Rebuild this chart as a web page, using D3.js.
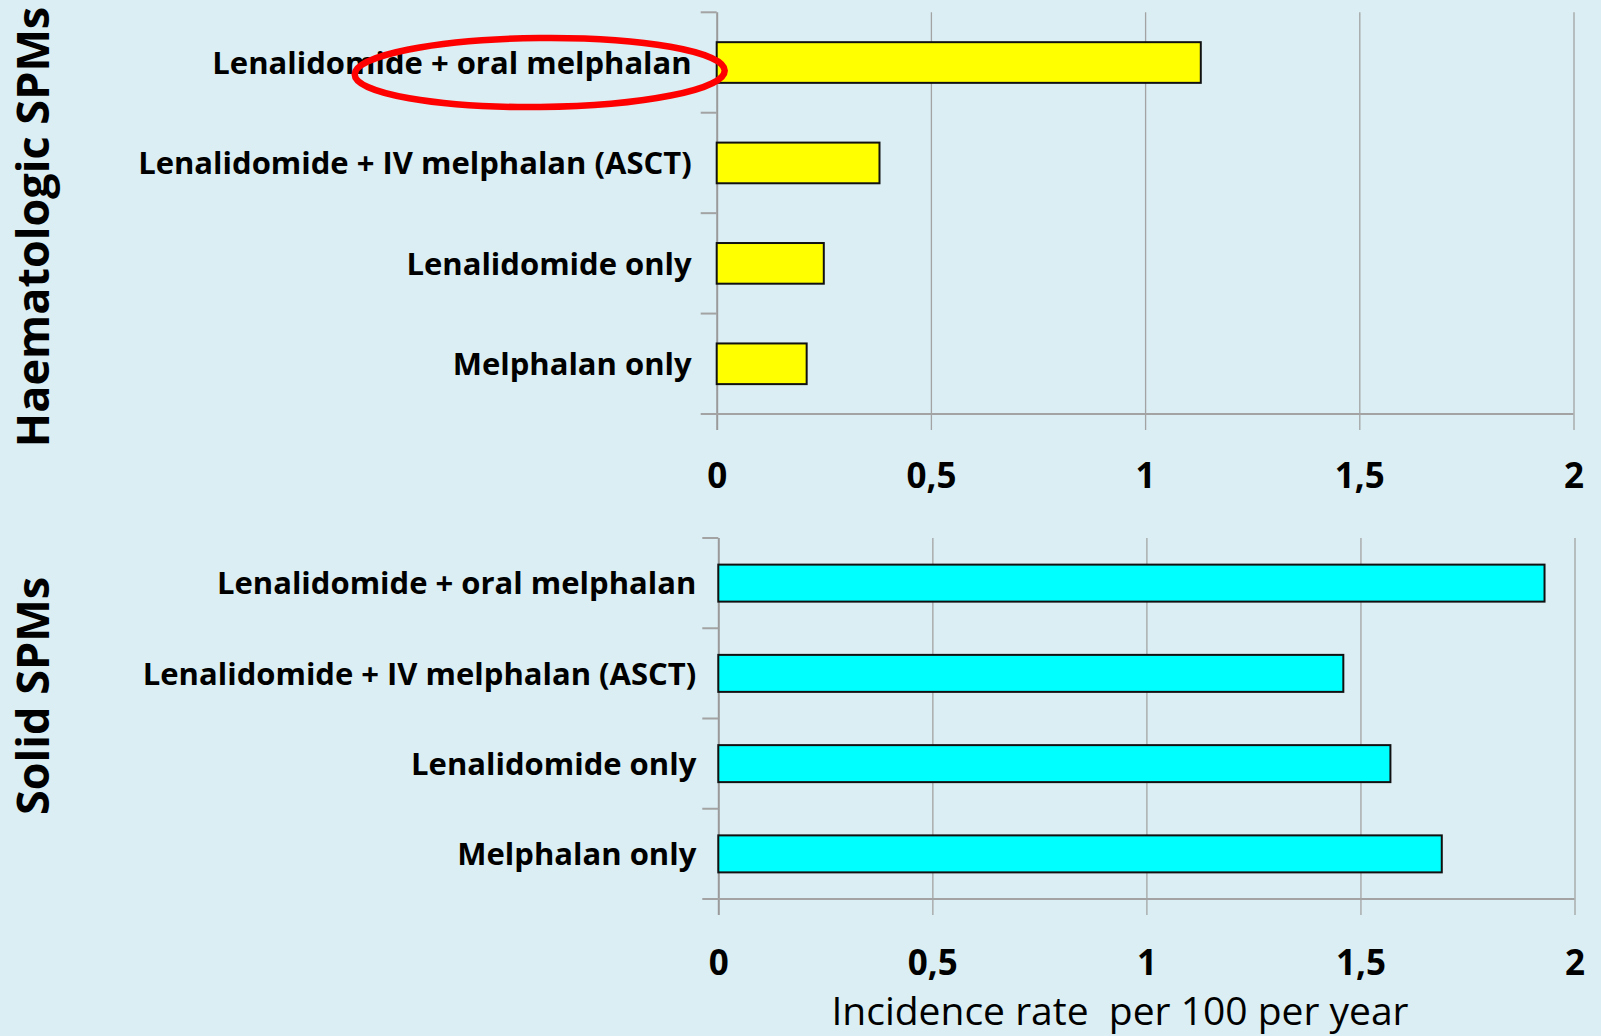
<!DOCTYPE html>
<html>
<head>
<meta charset="utf-8">
<script src="https://cdn.jsdelivr.net/npm/d3@7"></script>
<style>
  html, body { margin: 0; padding: 0; background: #DAEEF3; }
  svg { display: block; }
  text { font-family: "Open Sans", "DejaVu Sans", sans-serif; fill: #000; }
</style>
</head>
<body>
<svg id="chart" width="1601" height="1036"></svg>
<script>
// Treatment groups, listed top to bottom in each panel
const categories = [
  "Lenalidomide + oral melphalan",
  "Lenalidomide + IV melphalan (ASCT)",
  "Lenalidomide only",
  "Melphalan only"
];

// Incidence rate per 100 patient-years
const haematologicValues = [1.13, 0.38, 0.25, 0.21];
const solidValues = [1.93, 1.46, 1.57, 1.69];

// Shared x axis
const xTicks = [0, 0.5, 1, 1.5, 2];
const xTickLabels = ["0", "0,5", "1", "1,5", "2"];

const panelTitles = ["Haematologic SPMs", "Solid SPMs"];
const xAxisTitle = "Incidence rate  per 100 per year";

const svg = d3.select("#chart");
svg.append("rect").attr("width", 1601).attr("height", 1036).attr("fill", "#DAEEF3");

const panels = [
  { title: panelTitles[0], values: haematologicValues, fill: "#FFFF00",
    x0: 716.7, x1: 1573.5, top: 12.3, bottom: 414, pad: 0.595,
    labelGap: 25, tickLabelOffset: 61, titleY: 227 },
  { title: panelTitles[1], values: solidValues, fill: "#00FFFF",
    x0: 718.3, x1: 1574.5, top: 538, bottom: 899, pad: 0.59,
    labelGap: 22, tickLabelOffset: 63, titleY: 696 }
];

panels.forEach((p, pi) => {
  const g = svg.append("g");
  const x = d3.scaleLinear().domain([0, 2]).range([p.x0, p.x1]);
  const y = d3.scaleBand().domain(categories).range([p.top, p.bottom])
    .paddingInner(p.pad).paddingOuter(p.pad / 2);

  // vertical gridlines and tick labels
  const axis = d3.axisBottom(x)
    .tickValues(xTicks)
    .tickFormat((d, i) => xTickLabels[i])
    .tickSize(-(p.bottom - p.top + 16));
  const ag = g.append("g")
    .attr("transform", `translate(0,${p.bottom + 16})`)
    .call(axis);
  ag.select(".domain").remove();
  ag.selectAll(".tick line")
    .attr("stroke", d => d === 0 ? "#9a9a9a" : "#a3a3a3")
    .attr("stroke-width", d => d === 0 ? 2 : 1.3);
  ag.selectAll(".tick text")
    .attr("y", p.tickLabelOffset - 16)
    .attr("dy", "0.36em")
    .attr("font-size", 35)
    .attr("font-weight", 700)
    .attr("font-family", "'Open Sans', sans-serif")
    .attr("fill", "#000");

  // horizontal axis line
  g.append("line")
    .attr("x1", p.x0 - 16).attr("x2", p.x1)
    .attr("y1", p.bottom).attr("y2", p.bottom)
    .attr("stroke", "#a3a3a3").attr("stroke-width", 2);

  // category boundary ticks on the left
  const bounds = d3.range(categories.length).map(i => p.top + i * y.step());
  g.selectAll(".cat-tick").data(bounds).enter().append("line")
    .attr("x1", p.x0 - 16).attr("x2", p.x0)
    .attr("y1", d => d).attr("y2", d => d)
    .attr("stroke", "#a3a3a3").attr("stroke-width", 2);

  // bars
  g.selectAll(".bar").data(p.values).enter().append("rect")
    .attr("x", x(0))
    .attr("y", (d, i) => y(categories[i]))
    .attr("width", d => x(d) - x(0))
    .attr("height", y.bandwidth())
    .attr("fill", p.fill)
    .attr("stroke", "#111")
    .attr("stroke-width", 2);

  // category labels
  g.selectAll(".cat-label").data(categories).enter().append("text")
    .attr("x", p.x0 - p.labelGap)
    .attr("y", d => y(d) + y.bandwidth() / 2)
    .attr("dy", "0.36em")
    .attr("text-anchor", "end")
    .attr("font-size", 31)
    .attr("font-weight", 700)
    .text(d => d);

  // panel title, rotated
  g.append("text")
    .attr("transform", `translate(49,${p.titleY}) rotate(-90)`)
    .attr("text-anchor", "middle")
    .attr("font-size", 45)
    .attr("font-weight", 700)
    .text(p.title);

  // highlight ring around the oral melphalan combination (top panel)
  if (pi === 0) {
    const cy = y(categories[0]) + y.bandwidth() / 2 + 10;
    g.append("ellipse")
      .attr("cx", x(0) - 177).attr("cy", cy)
      .attr("rx", 185).attr("ry", 34.5)
      .attr("transform", `rotate(-0.6 ${x(0) - 177} ${cy})`)
      .attr("fill", "none")
      .attr("stroke", "#FF0000")
      .attr("stroke-width", 6.5);
  }
});

// x axis title under the lower panel
svg.append("text")
  .attr("x", 1120).attr("y", 1025)
  .attr("text-anchor", "middle")
  .attr("font-size", 39)
  .attr("font-weight", 400)
  .style("white-space", "pre")
  .attr("xml:space", "preserve")
  .text(xAxisTitle);
</script>
</body>
</html>
